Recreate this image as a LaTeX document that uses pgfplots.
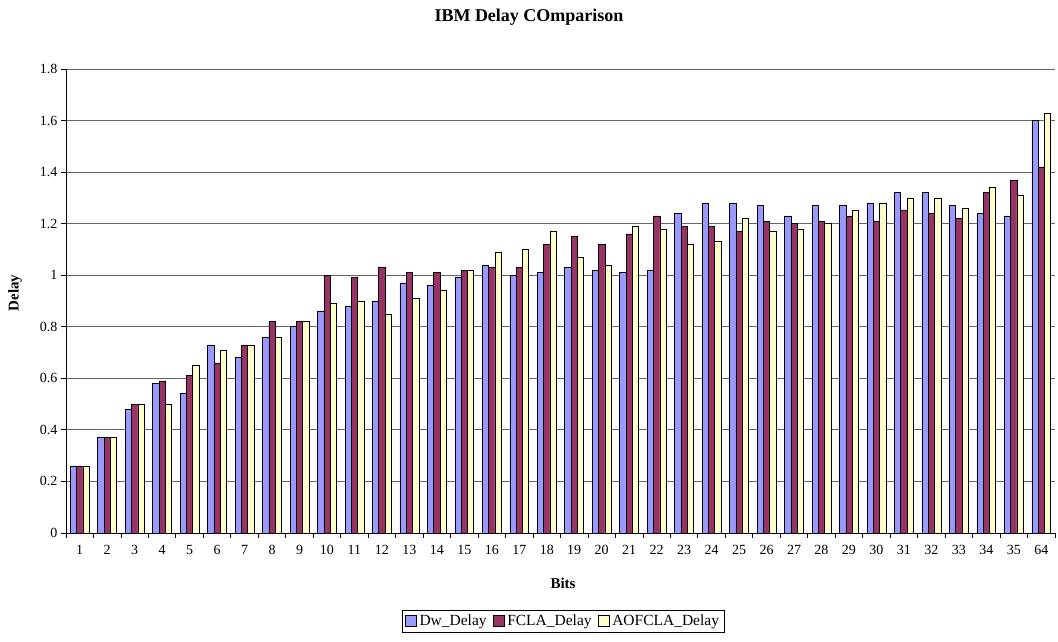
\documentclass[border=0pt]{standalone}
\usepackage{pgfplots}
\pgfplotsset{compat=1.18}
\usepackage{fontspec}
\setmainfont{Liberation Serif}
\definecolor{cA}{HTML}{9999FF}
\definecolor{cB}{HTML}{993366}
\definecolor{cC}{HTML}{FFFFCC}
\begin{document}
\begin{tikzpicture}[x=1pt,y=1pt]
\path (-66,-109) rectangle (992,533);
\begin{axis}[at={(0,0)},anchor=south west, scale only axis,
  width=989pt, height=464pt,
  ybar=0pt, bar width=6.3pt,
  xmin=-0.5, xmax=35.5, ymin=0, ymax=1.8,
  axis x line*=bottom, axis y line*=left,
  axis line style={-, black, line width=0.8pt},
  ytick={0,0.2,0.4,0.6,0.8,1,1.2,1.4,1.6,1.8},
  yticklabel style={/pgf/number format/fixed, /pgf/number format/precision=1},
  ymajorgrids, major grid style={black!60, line width=0.8pt},
  xtick={-0.5,0.5,...,35.5},
  x tick label as interval,
  xticklabels={1,2,3,4,5,6,7,8,9,10,11,12,13,14,15,16,17,18,19,20,21,22,23,24,25,26,27,28,29,30,31,32,33,34,35,64,{}},
  tick align=outside, major tick length=5pt,
  tick style={black, line width=0.8pt},
  tick label style={font=\fontsize{14}{16}\selectfont},
  /pgf/number format/assume math mode=true,
  xticklabel style={yshift=-4pt},
  legend columns=3,
  legend style={at={(axis description cs:0.5025,-0.19)}, anchor=center, draw=black,
    line width=0.8pt, font=\fontsize{15.5}{17}\selectfont,
    /tikz/every even column/.append style={column sep=4pt},
    /tikz/every odd column/.append style={column sep=1pt},
    inner xsep=3pt, inner ysep=3pt},
  legend image code/.code={\draw[#1, line width=0.6pt] (0pt,-5.5pt) rectangle (11pt,5.5pt);},
  every axis plot/.append style={draw=black, line width=0.6pt},
]
\addplot[fill=cA] coordinates {
(0,0.26) (1,0.37) (2,0.48) (3,0.58) (4,0.54) (5,0.73) (6,0.68) (7,0.76) (8,0.80) (9,0.86)
(10,0.88) (11,0.90) (12,0.97) (13,0.96) (14,0.99) (15,1.04) (16,1.00) (17,1.01) (18,1.03) (19,1.02)
(20,1.01) (21,1.02) (22,1.24) (23,1.28) (24,1.28) (25,1.27) (26,1.23) (27,1.27) (28,1.27) (29,1.28)
(30,1.32) (31,1.32) (32,1.27) (33,1.24) (34,1.23) (35,1.60)};
\addplot[fill=cB] coordinates {
(0,0.26) (1,0.37) (2,0.50) (3,0.59) (4,0.61) (5,0.66) (6,0.73) (7,0.82) (8,0.82) (9,1.00)
(10,0.99) (11,1.03) (12,1.01) (13,1.01) (14,1.02) (15,1.03) (16,1.03) (17,1.12) (18,1.15) (19,1.12)
(20,1.16) (21,1.23) (22,1.19) (23,1.19) (24,1.17) (25,1.21) (26,1.20) (27,1.21) (28,1.23) (29,1.21)
(30,1.25) (31,1.24) (32,1.22) (33,1.32) (34,1.37) (35,1.42)};
\addplot[fill=cC] coordinates {
(0,0.26) (1,0.37) (2,0.50) (3,0.50) (4,0.65) (5,0.71) (6,0.73) (7,0.76) (8,0.82) (9,0.89)
(10,0.90) (11,0.85) (12,0.91) (13,0.94) (14,1.02) (15,1.09) (16,1.10) (17,1.17) (18,1.07) (19,1.04)
(20,1.19) (21,1.18) (22,1.12) (23,1.13) (24,1.22) (25,1.17) (26,1.18) (27,1.20) (28,1.25) (29,1.28)
(30,1.30) (31,1.30) (32,1.26) (33,1.34) (34,1.31) (35,1.63)};
\legend{Dw\_Delay, FCLA\_Delay, AOFCLA\_Delay}
\end{axis}
\node[font=\bfseries\fontsize{18}{20}\selectfont] at (463,516) {IBM Delay COmparison};
\node[font=\bfseries\fontsize{15}{17}\selectfont] at (497,-50) {Bits};
\node[font=\bfseries\fontsize{15}{17}\selectfont, rotate=90] at (-51,240) {Delay};
\end{tikzpicture}
\end{document}
